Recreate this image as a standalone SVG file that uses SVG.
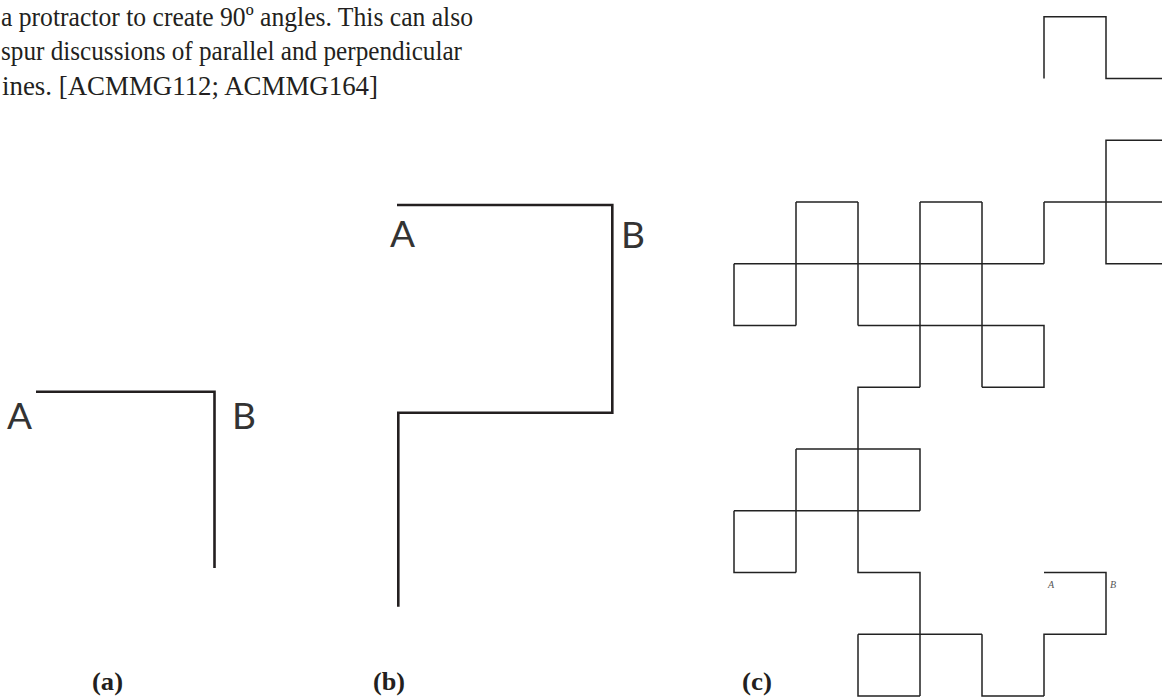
<svg xmlns="http://www.w3.org/2000/svg" width="1162" height="697" viewBox="0 0 1162 697">
<style>
.body{font-family:"Liberation Serif","DejaVu Serif",serif;font-size:28px;fill:#231f20}
.cap{font-family:"Liberation Serif","DejaVu Serif",serif;font-size:25px;font-weight:bold;fill:#231f20}
.lbl{font-family:Lato,"Open Sans","DejaVu Sans",sans-serif;font-size:37px;fill:#333}
.small{font-family:"Liberation Serif",serif;font-style:italic;font-size:10px;fill:#555}
.thick{fill:none;stroke:#231f20;stroke-width:2.6;stroke-linejoin:miter}
.thin{fill:none;stroke:#222;stroke-width:1.5;stroke-linejoin:miter}
</style>
<rect width="1162" height="697" fill="#fff"/>
<g id="paragraph">
<text class="body" x="1" y="25.5" textLength="472" lengthAdjust="spacingAndGlyphs">a protractor to create 90º angles. This can also</text>
<text class="body" x="1" y="60" textLength="461" lengthAdjust="spacingAndGlyphs">spur discussions of parallel and perpendicular</text>
<text class="body" x="2" y="95" textLength="376" lengthAdjust="spacingAndGlyphs">ines. [ACMMG112; ACMMG164]</text>
</g>
<g id="figure-a">
<path class="thick" d="M36 391.7 H214.5 V568"/>
<text class="lbl" x="7" y="429">A</text>
<text class="lbl" x="232" y="429">B</text>
<text class="cap" x="92" y="690" textLength="31" lengthAdjust="spacingAndGlyphs">(a)</text>
</g>
<g id="figure-b">
<path class="thick" d="M397 205 H612.3 V412.7 H398.3 V606.7"/>
<text class="lbl" x="390" y="247">A</text>
<text class="lbl" x="621" y="248">B</text>
<text class="cap" x="373" y="690" textLength="32" lengthAdjust="spacingAndGlyphs">(b)</text>
</g>
<g id="figure-c">
<path class="thin" d="M1044 78.5 V16.7 H1106 V78.5 H1162"/>
<path class="thin" d="M1162 140.2 H1106 V263.7 H1162"/>
<path class="thin" d="M1044 202 H1162 M1044 202 V263.7"/>
<path class="thin" d="M734 263.7 H1044"/>
<path class="thin" d="M796 202 H858 M920 202 H982"/>
<path class="thin" d="M796 202 V325.5 M858 202 V325.5"/>
<path class="thin" d="M920 202 V387.2 M982 202 V387.2"/>
<path class="thin" d="M734 263.7 V325.5 H796"/>
<path class="thin" d="M858 325.5 H1044 V387.2 H982"/>
<path class="thin" d="M920 387.2 H858 V572.5 H920 V696"/>
<path class="thin" d="M796 449 H920 V510.7 M734 510.7 H920 M796 449 V572.5 M734 510.7 V572.5 H796"/>
<path class="thin" d="M858 634.2 H982 M858 634.2 V696 H920 M982 634.2 V696 H1044"/>
<path class="thin" d="M1044 696 V634.2 H1106 V572.5 H1044"/>
<text class="small" x="1048" y="588">A</text>
<text class="small" x="1110" y="588">B</text>
<text class="cap" x="742" y="690" textLength="30" lengthAdjust="spacingAndGlyphs">(c)</text>
</g>
</svg>
